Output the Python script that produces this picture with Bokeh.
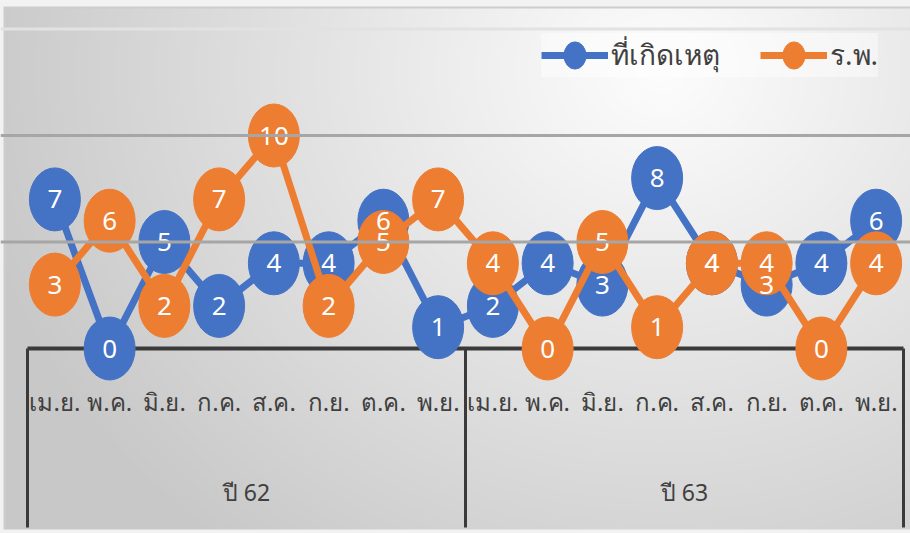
import numpy as np
from bokeh.plotting import figure
from bokeh.models import Range1d, Span, Legend, LegendItem, ColumnDataSource
from bokeh.core.properties import value
from bokeh.embed import file_html
from bokeh.resources import INLINE

# ---- data ----
months = ["เม.ย.", "พ.ค.", "มิ.ย.", "ก.ค.", "ส.ค.", "ก.ย.", "ต.ค.", "พ.ย."]
years = ["ปี 62", "ปี 63"]
series_names = ["ที่เกิดเหตุ", "ร.พ."]
scene = [7, 0, 5, 2, 4, 4, 6, 1, 2, 4, 3, 8, 4, 3, 4, 6]
hospital = [3, 6, 2, 7, 10, 2, 5, 7, 4, 0, 5, 1, 4, 4, 0, 4]
gridlines = [5, 10, 15]

# ---- layout ----
W, H = 910, 533
UX, UY = 54.75, 21.3          # pixels per category / per unit
OX, OY = 27, 348              # pixel position of (0, 0)
X0, X1 = -OX / UX, (W - OX) / UX
Y0, Y1 = -(H - OY) / UY, OY / UY
TABLE_BOTTOM = -(527 - OY) / UY
FONT = "Noto Sans"
BLUE, ORANGE = "#4472C4", "#ED7D31"
TXT = "#404040"

n = len(months) * len(years)
xs = np.arange(n) + 0.5
cat_labels = months * len(years)

p = figure(width=W, height=H, x_range=Range1d(X0, X1), y_range=Range1d(Y0, Y1),
           output_backend="svg", toolbar_location=None, min_border=0,
           x_axis_location=None, y_axis_location=None)
p.outline_line_color = None
p.grid.visible = False
p.border_fill_color = "#e6e6e6"
p.background_fill_color = "#e6e6e6"

# background radial gradient (light near top-right) with thin outer frame
rows, cols = np.mgrid[0:H, 0:W]
px = cols
py = H - 1 - rows
d = np.sqrt((px - 660.0) ** 2 + ((py - 70.0) * 1.15) ** 2)
v = np.clip(253 - 0.075 * d, 200, 253)
v = np.where((py < 6) | (px < 3) | (py > 528), 242, v)
v = np.where(((py >= 6) & (py <= 7) & (px >= 3)) | ((px >= 3) & (px <= 4) & (py >= 6) & (py <= 528)), 205, v)
v = v.astype(np.uint32)
img = (np.uint32(255) << 24) | (v << 16) | (v << 8) | v
p.image_rgba(image=[img.astype(np.uint32)], x=X0, y=Y0, dw=X1 - X0, dh=Y1 - Y0)

# gridlines
for g in gridlines:
    col = "#a6a6a6" if g < 15 else "#e2e2e2"
    p.add_layout(Span(location=g, dimension="width", line_color=col, line_width=3))

# category table
ngroups = len(years)
per = len(months)
p.segment(x0=[0], y0=[0], x1=[n], y1=[0], line_color="#3a3a3a", line_width=4)
bx = [g * per for g in range(ngroups + 1)]
p.segment(x0=bx, y0=[0] * len(bx), x1=bx, y1=[TABLE_BOTTOM] * len(bx),
          line_color="#3a3a3a", line_width=3)
p.text(x=xs, y=[-2.5] * n, text=cat_labels, text_font=value(FONT), text_font_size="24px",
       text_color=TXT, text_align="center", text_baseline="middle")
gx = [g * per + per / 2 for g in range(ngroups)]
p.text(x=gx, y=[-6.76] * ngroups, text=years, text_font=value(FONT), text_font_size="23px",
       text_color=TXT, text_align="center", text_baseline="middle")

# series
items = []
srcs = []
for name, vals, col in [(series_names[0], scene, BLUE), (series_names[1], hospital, ORANGE)]:
    src = ColumnDataSource(dict(x=xs, y=vals, lab=[str(v) for v in vals]))
    srcs.append(src)
    ln = p.line("x", "y", source=src, line_color=col, line_width=7)
    el = p.ellipse("x", "y", width=51, height=63, width_units="screen", height_units="screen",
                   source=src, fill_color=col, line_color=col)
    items.append(LegendItem(label=name, renderers=[ln, el]))

for src in srcs:
    p.text("x", "y", text="lab", source=src, text_font=value(FONT), text_font_size="26px",
           text_color="white", text_align="center", text_baseline="middle")

legend = Legend(items=items, orientation="horizontal", location="top_right",
                glyph_width=67, glyph_height=34, label_standoff=3, spacing=40,
                padding=14, margin=0, label_text_font=FONT, label_text_font_size="28px",
                label_text_color=TXT, background_fill_color="white", background_fill_alpha=0.45,
                border_line_color=None)
p.add_layout(legend)
legend.location = (541, 456)

open("out.html", "w").write(file_html(p, INLINE))
